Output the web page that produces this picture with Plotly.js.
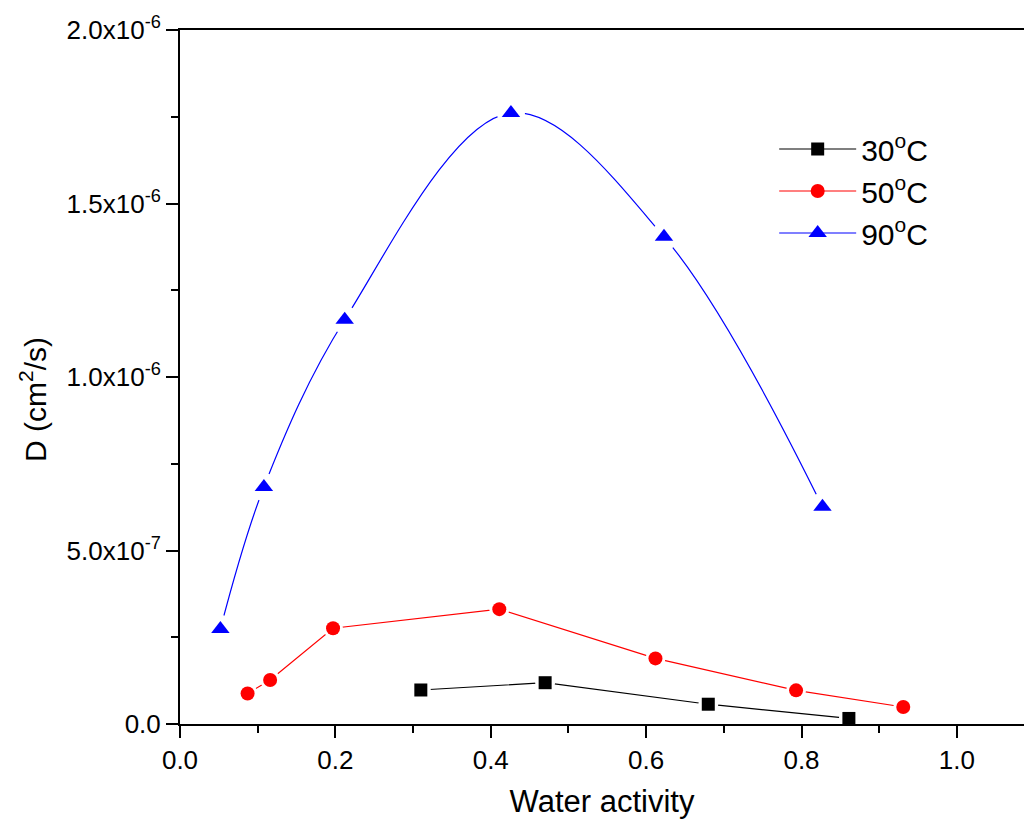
<!DOCTYPE html>
<html>
<head>
<meta charset="utf-8">
<script src="https://cdn.plot.ly/plotly-3.0.1.min.js"></script>
<style>html,body{margin:0;padding:0;background:#fff;}#chart{width:1024px;height:823px;}</style>
</head>
<body>
<div id="chart"></div>
<script>
// Data
const x30 = [0.310, 0.470, 0.680, 0.861];
const y30 = [0.098e-6, 0.119e-6, 0.057e-6, 0.016e-6];

const x50 = [0.087, 0.116, 0.197, 0.411, 0.612, 0.793, 0.931];
const y50 = [0.088e-6, 0.127e-6, 0.276e-6, 0.331e-6, 0.189e-6, 0.097e-6, 0.049e-6];

const x90 = [0.052, 0.108, 0.212, 0.426, 0.623, 0.827];
const y90 = [0.274e-6, 0.683e-6, 1.165e-6, 1.761e-6, 1.404e-6, 0.626e-6];

const seriesNames = ["30<sup>o</sup>C", "50<sup>o</sup>C", "90<sup>o</sup>C"];
const yTickVals = [0, 0.5e-6, 1.0e-6, 1.5e-6, 2.0e-6];
const yTickText = ["0.0", "5.0x10<sup>-7</sup>", "1.0x10<sup>-6</sup>", "1.5x10<sup>-6</sup>", "2.0x10<sup>-6</sup>"];
const xTickVals = [0, 0.2, 0.4, 0.6, 0.8, 1.0];
const xTickText = ["0.0", "0.2", "0.4", "0.6", "0.8", "1.0"];

const FONT = '"Liberation Sans", Arial, sans-serif';

function series(x, y, name, color, symbol, size, shape, gap) {
  return [
    {x: x, y: y, name: name, type: 'scatter', mode: 'lines+markers',
     line: {color: color, width: 1.2, shape: shape, smoothing: 1},
     marker: {color: color, symbol: symbol, size: size}},
    {x: x, y: y, type: 'scatter', mode: 'markers', showlegend: false, hoverinfo: 'skip',
     marker: {color: '#ffffff', symbol: 'circle', size: gap}},
    {x: x, y: y, type: 'scatter', mode: 'markers', showlegend: false,
     marker: {color: color, symbol: symbol, size: size}}
  ];
}

const data = [].concat(
  series(x30, y30, seriesNames[0], '#000000', 'square', 13, 'linear', 20),
  series(x50, y50, seriesNames[1], '#ff0000', 'circle', 14, 'linear', 20),
  series(x90, y90, seriesNames[2], '#0000ff', 'triangle-up', 16, 'spline', 28)
);

const layout = {
  width: 1024, height: 823,
  paper_bgcolor: '#ffffff', plot_bgcolor: '#ffffff',
  margin: {l: 180, r: 0, t: 30, b: 99},
  font: {family: FONT, color: '#000000'},
  showlegend: true,
  legend: {x: 0.704, y: 0.866, xanchor: 'left', yanchor: 'top',
           font: {family: FONT, size: 30, color: '#000'},
           bgcolor: 'rgba(0,0,0,0)', tracegroupgap: 0, itemwidth: 77},
  xaxis: {
    range: [0, 1.0864], showgrid: false, zeroline: false,
    showline: true, linecolor: '#000', linewidth: 2, mirror: true,
    ticks: 'outside', ticklen: 12, tickwidth: 2, tickcolor: '#000',
    tickmode: 'array', tickvals: xTickVals, ticktext: xTickText,
    tickfont: {family: FONT, size: 26, color: '#000'},
    minor: {ticks: 'outside', ticklen: 7, tickwidth: 2, tickcolor: '#000', dtick: 0.1, tick0: 0, showgrid: false},
    title: {text: 'Water activity', font: {family: FONT, size: 31, color: '#000'}, standoff: 16}
  },
  yaxis: {
    range: [0, 2.0e-6], showgrid: false, zeroline: false,
    showline: true, linecolor: '#000', linewidth: 2,
    ticks: 'outside', ticklen: 12, tickwidth: 2, tickcolor: '#000',
    tickmode: 'array', tickvals: yTickVals, ticktext: yTickText,
    tickfont: {family: FONT, size: 26, color: '#000'},
    minor: {ticks: 'outside', ticklen: 7, tickwidth: 2, tickcolor: '#000', dtick: 0.25e-6, tick0: 0, showgrid: false}
  },
  annotations: [{
    text: 'D (cm<sup>2</sup>/s)', textangle: -90,
    xref: 'paper', yref: 'paper', x: -0.174, y: 0.467,
    xanchor: 'center', yanchor: 'middle', showarrow: false,
    font: {family: FONT, size: 30, color: '#000'}
  }]
};

Plotly.newPlot('chart', data, layout, {displayModeBar: false, staticPlot: true});
</script>
</body>
</html>
